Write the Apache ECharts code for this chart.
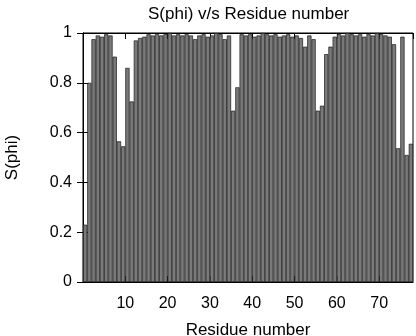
<!DOCTYPE html>
<html>
<head>
<meta charset="utf-8">
<script src="https://cdn.jsdelivr.net/npm/echarts@6/dist/echarts.min.js"></script>
<style>html,body{margin:0;padding:0;background:#fff;}#c{width:416px;height:336px;}</style>
</head>
<body>
<div id="c"></div>
<script>
const titleText = 'S(phi) v/s Residue number';
const xName = 'Residue number';
const yName = 'S(phi)';
const residues = [];
for (let i = 1; i <= 78; i++) residues.push(String(i));
const sphi = [
  0.23, 0.80, 0.975, 0.99, 0.985, 0.995, 0.99, 0.905, 0.565, 0.545,
  0.86, 0.725, 0.97, 0.98, 0.985, 0.995, 0.99, 0.995, 0.99, 0.995,
  1.0, 0.99, 0.995, 0.99, 0.995, 0.99, 0.975, 0.99, 0.995, 0.985,
  0.99, 1.0, 0.995, 0.975, 0.99, 0.688, 0.782, 0.995, 0.99, 0.995,
  0.985, 0.99, 1.0, 0.995, 0.99, 0.995, 0.985, 0.99, 0.995, 0.985,
  0.99, 0.98, 0.945, 0.99, 0.975, 0.688, 0.708, 0.915, 0.945, 0.985,
  0.995, 0.99, 1.0, 0.995, 0.99, 0.995, 0.985, 0.995, 0.99, 1.0,
  0.995, 0.99, 0.985, 0.955, 0.537, 0.985, 0.51, 0.555
];
const FONT = 'Liberation Sans';
const chart = echarts.init(document.getElementById('c'));
chart.setOption({
  animation: false,
  backgroundColor: '#fff',
  textStyle: { fontFamily: FONT, color: '#000' },
  title: {
    text: titleText, left: 143, top: 1,
    textStyle: { fontFamily: FONT, fontSize: 17, fontWeight: 'normal', color: '#000' }
  },
  grid: { left: 83, right: 3, top: 33, bottom: 54, outerBoundsMode: 'none', containLabel: false,
    show: true, borderColor: '#000', borderWidth: 1, backgroundColor: 'transparent' },
  xAxis: [
    { type: 'category', data: residues, show: false, boundaryGap: true },
    { type: 'value', min: 0, max: 78, interval: 10, position: 'bottom',
      name: xName, nameLocation: 'middle', nameGap: 40,
      nameTextStyle: { fontFamily: FONT, fontSize: 17, color: '#000' },
      axisLine: { show: true, lineStyle: { color: '#000' } },
      axisTick: { show: true, inside: true, length: 6, lineStyle: { color: '#000' } },
      axisLabel: { fontFamily: FONT, fontSize: 16, color: '#000', margin: 14, showMinLabel: false, showMaxLabel: false,
        formatter: v => (v === 0 || v === 78) ? '' : String(v) },
      splitLine: { show: false } },
    { type: 'value', min: 0, max: 78, interval: 10, position: 'top',
      axisLine: { show: true, lineStyle: { color: '#000' } },
      axisTick: { show: true, inside: true, length: 6, lineStyle: { color: '#000' } },
      axisLabel: { show: false }, splitLine: { show: false } }
  ],
  yAxis: [
    { type: 'value', min: 0, max: 1, interval: 0.2, position: 'left',
      name: yName, nameLocation: 'middle', nameGap: 62, nameRotate: 90,
      nameTextStyle: { fontFamily: FONT, fontSize: 17, color: '#000' },
      axisLine: { show: true, lineStyle: { color: '#000' } },
      axisTick: { show: true, inside: true, length: 6, lineStyle: { color: '#000' } },
      axisLabel: { fontFamily: FONT, fontSize: 16, color: '#000', margin: 11 },
      splitLine: { show: false } },
    { type: 'value', min: 0, max: 1, interval: 0.2, position: 'right',
      axisLine: { show: true, lineStyle: { color: '#000' } },
      axisTick: { show: true, inside: true, length: 6, lineStyle: { color: '#000' } },
      axisLabel: { show: false }, splitLine: { show: false } }
  ],
  series: [{
    type: 'bar', xAxisIndex: 0, yAxisIndex: 0,
    data: sphi,
    barWidth: '100%', barCategoryGap: '0%',
    itemStyle: { color: '#7a7a7a', borderColor: '#1a1a1a', borderWidth: 0.7 },
    z: 1
  }]
});
</script>
</body>
</html>
